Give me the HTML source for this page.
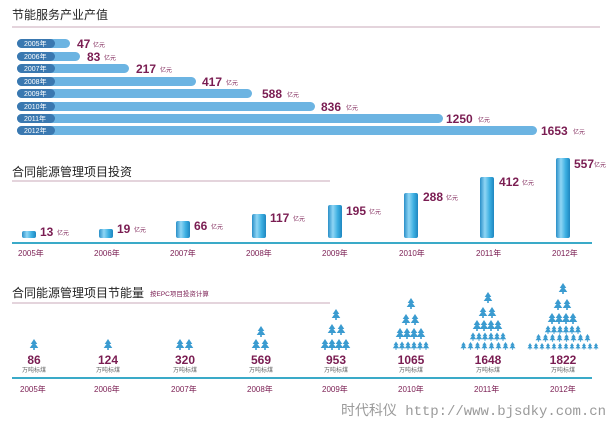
<!DOCTYPE html>
<html><head><meta charset="utf-8"><style>
html,body{margin:0;padding:0;background:#fff;}
svg{display:block;font-family:"Liberation Sans","Noto Sans CJK SC",sans-serif;}
.t{font-size:12px;fill:#222;}
.v{font-weight:bold;fill:#7a1d52;}
.u{font-size:6px;fill:#7a1d52;}
.y{font-size:8px;fill:#7a1d52;}
.yl{font-size:7px;fill:#fff;}
.n{font-size:6px;fill:#666;}
</style></head><body>
<svg width="614" height="425" viewBox="0 0 614 425" xmlns="http://www.w3.org/2000/svg">
<defs>
<linearGradient id="cg" x1="0" x2="1" y1="0" y2="0">
<stop offset="0" stop-color="#2a8fc8"/><stop offset="0.35" stop-color="#8fd6f5"/><stop offset="0.7" stop-color="#3aaee0"/><stop offset="1" stop-color="#1f86c0"/></linearGradient>
<g id="tr"><polygon points="0,-10 -3.3,-5 3.3,-5" fill="#3a9bd0"/><polygon points="0,-7 -4.3,-1 4.3,-1" fill="#3a9bd0"/><rect x="-0.8" y="-1" width="1.6" height="2" fill="#3a9bd0"/></g>
</defs>
<!-- Section 1 -->
<text x="12" y="19" class="t">节能服务产业产值</text>
<line x1="12" y1="27" x2="600" y2="27" stroke="#c9a9b8" stroke-width="1"/>
<g>
<rect x="17" y="39" width="53" height="9" rx="4.5" fill="#6cb4e2"/>
<rect x="17" y="52" width="63" height="9" rx="4.5" fill="#6cb4e2"/>
<rect x="17" y="64" width="112" height="9" rx="4.5" fill="#6cb4e2"/>
<rect x="17" y="77" width="179" height="9" rx="4.5" fill="#6cb4e2"/>
<rect x="17" y="89" width="235" height="9" rx="4.5" fill="#6cb4e2"/>
<rect x="17" y="102" width="298" height="9" rx="4.5" fill="#6cb4e2"/>
<rect x="17" y="114" width="426" height="9" rx="4.5" fill="#6cb4e2"/>
<rect x="17" y="126" width="520" height="9" rx="4.5" fill="#6cb4e2"/>
</g>
<g fill="#3a78b0">
<rect x="17" y="39" width="38" height="9" rx="4.5"/><rect x="17" y="52" width="38" height="9" rx="4.5"/>
<rect x="17" y="64" width="38" height="9" rx="4.5"/><rect x="17" y="77" width="38" height="9" rx="4.5"/>
<rect x="17" y="89" width="38" height="9" rx="4.5"/><rect x="17" y="102" width="38" height="9" rx="4.5"/>
<rect x="17" y="114" width="38" height="9" rx="4.5"/><rect x="17" y="126" width="38" height="9" rx="4.5"/>
</g>
<g class="yl">
<text x="24" y="46">2005年</text><text x="24" y="59">2006年</text><text x="24" y="71">2007年</text><text x="24" y="84">2008年</text>
<text x="24" y="96">2009年</text><text x="24" y="109">2010年</text><text x="24" y="121">2011年</text><text x="24" y="133">2012年</text>
</g>
<g font-size="12">
<text x="77" y="48" class="v">47</text><text x="93" y="47" class="u">亿元</text>
<text x="87" y="61" class="v">83</text><text x="104" y="60" class="u">亿元</text>
<text x="136" y="73" class="v">217</text><text x="160" y="72" class="u">亿元</text>
<text x="202" y="86" class="v">417</text><text x="226" y="85" class="u">亿元</text>
<text x="262" y="98" class="v">588</text><text x="287" y="97" class="u">亿元</text>
<text x="321" y="111" class="v">836</text><text x="346" y="110" class="u">亿元</text>
<text x="446" y="123" class="v">1250</text><text x="478" y="122" class="u">亿元</text>
<text x="541" y="135" class="v">1653</text><text x="573" y="134" class="u">亿元</text>
</g>
<!-- Section 2 -->
<text x="12" y="176" class="t">合同能源管理项目投资</text>
<line x1="12" y1="181" x2="330" y2="181" stroke="#c9a9b8" stroke-width="1"/>
<line x1="12" y1="243" x2="592" y2="243" stroke="#3aaac8" stroke-width="2"/>
<g fill="url(#cg)">
<rect x="22" y="231" width="14" height="7" rx="2"/>
<rect x="99" y="229" width="14" height="9" rx="2"/>
<rect x="176" y="221" width="14" height="17" rx="2"/>
<rect x="252" y="214" width="14" height="24" rx="2"/>
<rect x="328" y="205" width="14" height="33" rx="2"/>
<rect x="404" y="193" width="14" height="45" rx="2"/>
<rect x="480" y="177" width="14" height="61" rx="2"/>
<rect x="556" y="158" width="14" height="80" rx="2"/>
</g>
<g font-size="12">
<text x="40" y="236" class="v">13</text><text x="57" y="235" class="u">亿元</text>
<text x="117" y="233" class="v">19</text><text x="134" y="232" class="u">亿元</text>
<text x="194" y="230" class="v">66</text><text x="211" y="229" class="u">亿元</text>
<text x="270" y="222" class="v">117</text><text x="293" y="221" class="u">亿元</text>
<text x="346" y="215" class="v">195</text><text x="369" y="214" class="u">亿元</text>
<text x="423" y="201" class="v">288</text><text x="446" y="200" class="u">亿元</text>
<text x="499" y="186" class="v">412</text><text x="522" y="185" class="u">亿元</text>
<text x="574" y="168" class="v">557</text><text x="594" y="167" class="u">亿元</text>
</g>
<g class="y">
<text x="18" y="256">2005年</text><text x="94" y="256">2006年</text><text x="170" y="256">2007年</text><text x="246" y="256">2008年</text>
<text x="322" y="256">2009年</text><text x="399" y="256">2010年</text><text x="476" y="256">2011年</text><text x="552" y="256">2012年</text>
</g>
<!-- Section 3 -->
<text x="12" y="297" class="t">合同能源管理项目节能量</text>
<text x="150" y="296" font-size="6.5" fill="#7a1d52">按EPC项目投资计算</text>
<line x1="12" y1="303" x2="330" y2="303" stroke="#c9a9b8" stroke-width="1"/>
<line x1="12" y1="378" x2="592" y2="378" stroke="#3aaac8" stroke-width="2"/>
<g>
<use href="#tr" x="34" y="349"/>
<use href="#tr" x="108" y="349"/>
<use href="#tr" x="180" y="349"/><use href="#tr" x="189" y="349"/>
<use href="#tr" x="256" y="349"/><use href="#tr" x="265" y="349"/><use href="#tr" x="261" y="336"/>
<use href="#tr" x="325" y="349"/><use href="#tr" x="332" y="349"/><use href="#tr" x="339" y="349"/><use href="#tr" x="346" y="349"/>
<use href="#tr" x="332" y="334"/><use href="#tr" x="341" y="334"/><use href="#tr" x="336" y="319"/>
<g transform="translate(411,349) scale(0.75)"><use href="#tr" x="-20"/><use href="#tr" x="-12"/><use href="#tr" x="-4"/><use href="#tr" x="4"/><use href="#tr" x="12"/><use href="#tr" x="20"/></g>
<use href="#tr" x="400" y="338"/><use href="#tr" x="407" y="338"/><use href="#tr" x="414" y="338"/><use href="#tr" x="421" y="338"/>
<use href="#tr" x="406" y="324"/><use href="#tr" x="415" y="324"/><use href="#tr" x="411" y="308"/>
<g transform="translate(488,349) scale(0.7)"><use href="#tr" x="-35"/><use href="#tr" x="-25"/><use href="#tr" x="-15"/><use href="#tr" x="-5"/><use href="#tr" x="5"/><use href="#tr" x="15"/><use href="#tr" x="25"/><use href="#tr" x="35"/></g>
<g transform="translate(488,340) scale(0.75)"><use href="#tr" x="-20"/><use href="#tr" x="-12"/><use href="#tr" x="-4"/><use href="#tr" x="4"/><use href="#tr" x="12"/><use href="#tr" x="20"/></g>
<use href="#tr" x="477" y="330"/><use href="#tr" x="484" y="330"/><use href="#tr" x="491" y="330"/><use href="#tr" x="498" y="330"/>
<use href="#tr" x="483" y="317"/><use href="#tr" x="492" y="317"/><use href="#tr" x="488" y="302"/>
<g transform="translate(563,349) scale(0.6)"><use href="#tr" x="-55"/><use href="#tr" x="-45"/><use href="#tr" x="-35"/><use href="#tr" x="-25"/><use href="#tr" x="-15"/><use href="#tr" x="-5"/><use href="#tr" x="5"/><use href="#tr" x="15"/><use href="#tr" x="25"/><use href="#tr" x="35"/><use href="#tr" x="45"/><use href="#tr" x="55"/></g>
<g transform="translate(563,341) scale(0.7)"><use href="#tr" x="-35"/><use href="#tr" x="-25"/><use href="#tr" x="-15"/><use href="#tr" x="-5"/><use href="#tr" x="5"/><use href="#tr" x="15"/><use href="#tr" x="25"/><use href="#tr" x="35"/></g>
<g transform="translate(563,333) scale(0.75)"><use href="#tr" x="-20"/><use href="#tr" x="-12"/><use href="#tr" x="-4"/><use href="#tr" x="4"/><use href="#tr" x="12"/><use href="#tr" x="20"/></g>
<use href="#tr" x="552" y="323"/><use href="#tr" x="559" y="323"/><use href="#tr" x="566" y="323"/><use href="#tr" x="573" y="323"/>
<use href="#tr" x="558" y="309"/><use href="#tr" x="567" y="309"/><use href="#tr" x="563" y="293"/>
</g>
<g font-size="12" text-anchor="middle">
<text x="34" y="364" class="v">86</text><text x="108" y="364" class="v">124</text><text x="185" y="364" class="v">320</text><text x="261" y="364" class="v">569</text>
<text x="336" y="364" class="v">953</text><text x="411" y="364" class="v">1065</text><text x="488" y="364" class="v">1648</text><text x="563" y="364" class="v">1822</text>
</g>
<g class="n" text-anchor="middle">
<text x="34" y="372">万吨标煤</text><text x="108" y="372">万吨标煤</text><text x="185" y="372">万吨标煤</text><text x="261" y="372">万吨标煤</text>
<text x="336" y="372">万吨标煤</text><text x="411" y="372">万吨标煤</text><text x="488" y="372">万吨标煤</text><text x="563" y="372">万吨标煤</text>
</g>
<g class="y">
<text x="20" y="392">2005年</text><text x="94" y="392">2006年</text><text x="171" y="392">2007年</text><text x="247" y="392">2008年</text>
<text x="322" y="392">2009年</text><text x="398" y="392">2010年</text><text x="474" y="392">2011年</text><text x="550" y="392">2012年</text>
</g>
<text x="341" y="415" font-size="14" fill="#9a9a9a" font-family="'Liberation Mono','Noto Sans CJK SC',monospace" textLength="265">时代科仪 http://www.bjsdky.com.cn</text>
</svg>
</body></html>
